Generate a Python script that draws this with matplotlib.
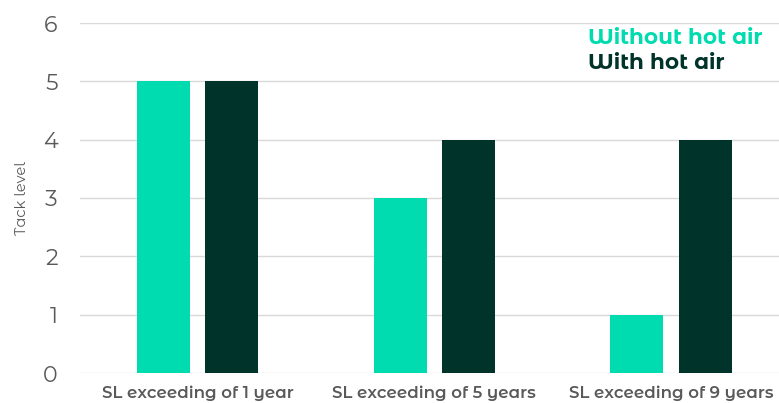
import numpy as np
from matplotlib import pyplot as plt

categories = ["SL exceeding of 1 year", "SL exceeding of 5 years", "SL exceeding of 9 years"]
without_hot_air = [5, 3, 1]
with_hot_air = [5, 4, 4]
yticks = [0, 1, 2, 3, 4, 5, 6]

teal = "#00dbb0"
dark = "#00342b"
grey = "#595959"

plt.rcParams['font.family'] = ['Montserrat Alternates', 'DejaVu Sans']

fig = plt.figure(figsize=(7.79, 4.03), dpi=100)
ax = fig.add_axes([80 / 779, 30 / 403, 699 / 779, 350 / 403])

x = np.arange(len(categories))
w = 0.224
ax.bar(x - 0.144, without_hot_air, w, color=teal, zorder=3)
ax.bar(x + 0.144, with_hot_air, w, color=dark, zorder=3)

ax.set_xlim(-0.496, 2.456)
ax.set_ylim(0, 6)
ax.set_yticks(yticks)
ax.yaxis.grid(True, color="#d9d9d9", linewidth=1, zorder=0)
ax.set_axisbelow(True)
for s in ax.spines.values():
    s.set_visible(False)
ax.tick_params(axis="both", length=0)
ax.tick_params(axis="y", labelsize=16, labelcolor=grey, pad=16)
ax.set_xticks(x)
ax.set_xticklabels(categories, fontsize=12, fontweight="semibold", color=grey)
ax.tick_params(axis="x", pad=9)
ax.set_ylabel("Tack level", fontsize=10.5, color=grey, labelpad=10)

fig.text(588 / 779, 1 - 38 / 403, "Without hot air", color=teal, fontsize=15.5,
         fontweight="bold", va="center", ha="left")
fig.text(588 / 779, 1 - 63 / 403, "With hot air", color=dark, fontsize=15.5,
         fontweight="bold", va="center", ha="left")

plt.savefig("out.png", dpi=100)
